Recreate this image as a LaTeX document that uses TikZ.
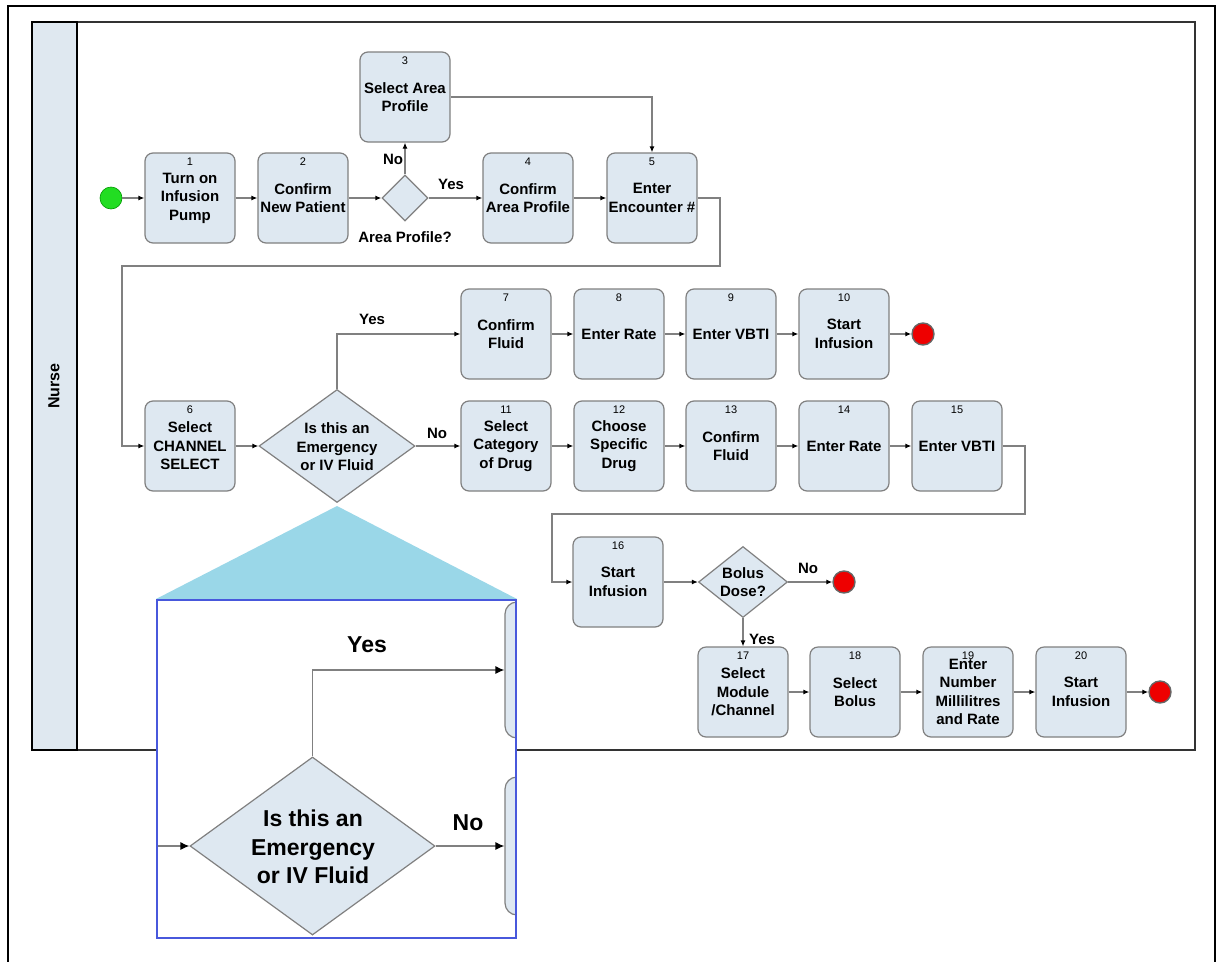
\documentclass[tikz,border=0pt]{standalone}
\usepackage{fontspec}
\setmainfont{Liberation Sans}
\usetikzlibrary{arrows.meta,shapes.geometric}
\definecolor{boxfill}{RGB}{222,232,241}
\definecolor{boxline}{RGB}{128,128,128}
\definecolor{laneFill}{RGB}{223,232,240}
\definecolor{calloutCyan}{RGB}{154,215,232}
\definecolor{calloutBlue}{RGB}{72,88,220}
\definecolor{startGreen}{RGB}{34,221,34}
\definecolor{endRed}{RGB}{238,0,0}
\begin{document}
\begin{tikzpicture}[x=1pt,y=-1pt,
  box/.style={rectangle,rounded corners=8pt,draw=boxline,fill=boxfill,line width=1.2pt,
    minimum width=90pt,minimum height=90pt,inner sep=1pt,align=center,
    font=\bfseries\fontsize{15}{18.5}\selectfont},
  num/.style={anchor=north,yshift=-5pt,inner sep=0pt,font=\fontsize{11}{11}\selectfont},
  dia/.style={diamond,draw=boxline,fill=boxfill,line width=1.2pt,inner sep=0pt},
  diatext/.style={align=center,inner sep=0pt,font=\bfseries\fontsize{15}{18.5}\selectfont},
  lbl/.style={inner sep=0pt,font=\bfseries\fontsize{15}{18}\selectfont},
  biglbl/.style={inner sep=0pt,font=\bfseries\fontsize{23}{28}\selectfont},
  conn/.style={draw=boxline,line width=1.2pt,-{Latex[length=6pt,width=5pt,color=black]}},
  startev/.style={circle,minimum size=22pt,inner sep=0pt,fill=startGreen,draw=green!60!black,line width=0.6pt},
  endev/.style={circle,minimum size=22pt,inner sep=0pt,fill=endRed,draw=black!60,line width=1.4pt},
]
\useasboundingbox (0,0) rectangle (1217,961);
% outer frame
\draw[line width=2pt,black] (8,970) -- (8,6) -- (1214.5,6) -- (1214.5,970);
% pool and lane
\draw[line width=2pt,draw=black!80,fill=white] (32,22) rectangle (1195,750);
\draw[line width=1.5pt,draw=black,fill=laneFill] (32,22) rectangle (77,750);
\node[rotate=90,inner sep=0pt,font=\bfseries\fontsize{16}{16}\selectfont] (lane) at (54,386) {Nurse};

% row 1
\node[startev] (s) at (111,198) {};
\node[box,label={[num]north:1}] (n1) at (190,198) {Turn on\\Infusion\\Pump};
\node[box,label={[num]north:2}] (n2) at (303,198) {Confirm\\New Patient};
\node[dia,minimum width=46pt,minimum height=46pt] (dA) at (405,198) {};
\node[lbl] (dAt) at (405,237) {Area Profile?};
\node[box,label={[num]north:3}] (n3) at (405,97) {Select Area\\Profile};
\node[box,label={[num]north:4}] (n4) at (528,198) {Confirm\\Area Profile};
\node[box,label={[num]north:5}] (n5) at (652,198) {Enter\\Encounter \#};

\draw[conn] (s) -- (n1);
\draw[conn] (n1) -- (n2);
\draw[conn] (n2) -- (dA);
\draw[conn] (dA.north) -- (n3.south);
\node[lbl] (noA) at (393,159) {No};
\draw[conn] (dA.east) -- (n4.west);
\node[lbl] (yesA) at (451,184) {Yes};
\draw[conn] (n4) -- (n5);
\draw[conn] (n3.east) -| (n5.north);

% row 2
\node[box,label={[num]north:6}] (n6) at (190,446) {Select\\CHANNEL\\SELECT};
\draw[conn] (n5.east) -- (720,198) -- (720,266) -- (122,266) |- (n6.west);
\node[dia,minimum width=156pt,minimum height=113pt] (dE) at (337,446) {};
\node[diatext] (dEt) at (337,447) {Is this an\\Emergency\\or IV Fluid};
\node[box,label={[num]north:7}] (n7) at (506,334) {Confirm\\Fluid};
\node[box,label={[num]north:8}] (n8) at (619,334) {Enter Rate};
\node[box,label={[num]north:9}] (n9) at (731,334) {Enter VBTI};
\node[box,label={[num]north:10}] (n10) at (844,334) {Start\\Infusion};
\node[endev] (e1) at (923,334) {};
\node[box,label={[num]north:11}] (n11) at (506,446) {Select\\Category\\of Drug};
\node[box,label={[num]north:12}] (n12) at (619,446) {Choose\\Specific\\Drug};
\node[box,label={[num]north:13}] (n13) at (731,446) {Confirm\\Fluid};
\node[box,label={[num]north:14}] (n14) at (844,446) {Enter Rate};
\node[box,label={[num]north:15}] (n15) at (957,446) {Enter VBTI};

\draw[conn] (n6) -- (dE);
\draw[conn] (dE.north) |- (n7.west);
\node[lbl] (yesE) at (372,319) {Yes};
\draw[conn] (dE.east) -- (n11.west);
\node[lbl] (noE) at (437,433) {No};
\draw[conn] (n7) -- (n8);
\draw[conn] (n8) -- (n9);
\draw[conn] (n9) -- (n10);
\draw[conn] (n10) -- (e1);
\draw[conn] (n11) -- (n12);
\draw[conn] (n12) -- (n13);
\draw[conn] (n13) -- (n14);
\draw[conn] (n14) -- (n15);

% row 3
\node[box,label={[num]north:16}] (n16) at (618,582) {Start\\Infusion};
\draw[conn] (n15.east) -- (1025,446) -- (1025,514) -- (552,514) |- (n16.west);
\node[dia,minimum width=89pt,minimum height=71pt] (dB) at (743,582) {};
\node[diatext] (dBt) at (743,582) {Bolus\\Dose?};
\node[endev] (e2) at (844,582) {};
\draw[conn] (n16) -- (dB);
\draw[conn] (dB.east) -- (e2);
\node[lbl] (noB) at (808,568) {No};

\node[box,label={[num]north:17}] (n17) at (743,692) {Select\\Module\\/Channel};
\node[box,label={[num]north:18}] (n18) at (855,692) {Select\\Bolus};
\node[box,label={[num]north:19}] (n19) at (968,692) {Enter\\Number\\Millilitres\\and Rate};
\node[box,label={[num]north:20}] (n20) at (1081,692) {Start\\Infusion};
\node[endev] (e3) at (1160,692) {};
\draw[conn] (dB.south) -- (n17.north);
\node[lbl] (yesB) at (762,639) {Yes};
\draw[conn] (n17) -- (n18);
\draw[conn] (n18) -- (n19);
\draw[conn] (n19) -- (n20);
\draw[conn] (n20) -- (e3);

% callout
\fill[calloutCyan] (337,506) -- (517,599) -- (156,599) -- cycle;
\fill[white] (157,600) rectangle (516,938);
\begin{scope}
  \clip (157,600) rectangle (516,938);
  \node[rectangle,rounded corners=12pt,draw=boxline,fill=boxfill,line width=1.2pt,
        minimum width=60pt,minimum height=136pt,inner sep=0pt] (zb1) at (535,670) {};
  \node[rectangle,rounded corners=12pt,draw=boxline,fill=boxfill,line width=1.2pt,
        minimum width=60pt,minimum height=138pt,inner sep=0pt] (zb2) at (535,846) {};
\end{scope}
\coordinate (zin) at (157,846);
\node[dia,minimum width=245pt,minimum height=178pt] (zd) at (312.5,846) {};
\node[align=center,inner sep=0pt,font=\bfseries\fontsize{23}{28.5}\selectfont] (zdt) at (313,847) {Is this an\\Emergency\\or IV Fluid};
\draw[draw=boxline,line width=1.2pt,-{Latex[length=9pt,width=8pt,color=black]}] (zin) -- (zd.west);
\draw[draw=boxline,line width=1.2pt,-{Latex[length=9pt,width=8pt,color=black]}] (zd.north) |- (zb1.west);
\draw[draw=boxline,line width=1.2pt,-{Latex[length=9pt,width=8pt,color=black]}] (zd.east) -- (zb2.west);
\node[biglbl] (zyes) at (367,645) {Yes};
\node[biglbl] (zno) at (468,823) {No};
\draw[calloutBlue,line width=1.6pt] (157,600) rectangle (516,938);
\end{tikzpicture}
\end{document}
